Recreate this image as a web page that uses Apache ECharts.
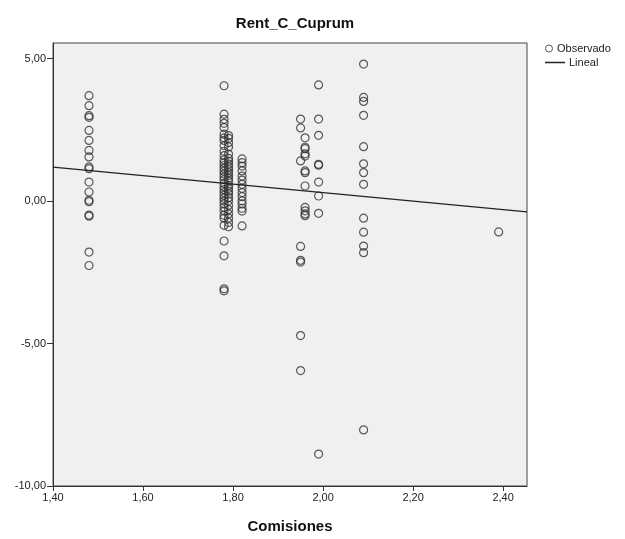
<!DOCTYPE html>
<html>
<head>
<meta charset="utf-8">
<script src="https://cdn.jsdelivr.net/npm/echarts@6/dist/echarts.min.js"></script>
<style>
  html, body { margin: 0; padding: 0; background: #ffffff; }
  #chart { width: 625px; height: 539px; }
</style>
</head>
<body>
<div id="chart"></div>
<script>
// Rentabilidad observada por nivel de comisión
const comisiones = [1.48, 1.78, 1.79, 1.82, 1.95, 1.96, 1.99, 2.09, 2.39];
const rent148 = [3.70, 3.35, 3.00, 2.94, 2.48, 2.13, 1.78, 1.55, 1.20, 1.14, 0.67, 0.32, 0.03, -0.02, -0.49, -0.53, -1.79, -2.26];
const rent178 = [4.05, 3.05, 2.87, 2.73, 2.58, 2.35, 2.22, 2.13, 1.95, 1.75, 1.60, 1.45, 1.35, 1.25, 1.15, 1.05, 0.95, 0.85, 0.75, 0.62, 0.50, 0.40, 0.30, 0.20, 0.10, 0.00, -0.10, -0.22, -0.35, -0.50, -0.60, -0.85, -1.40, -1.92, -3.08, -3.15];
const rent179 = [2.30, 2.20, 2.05, 1.90, 1.65, 1.50, 1.40, 1.30, 1.20, 1.10, 1.00, 0.90, 0.80, 0.70, 0.55, 0.45, 0.35, 0.25, 0.12, 0.00, -0.15, -0.30, -0.45, -0.60, -0.75, -0.90];
const rent182 = [1.48, 1.35, 1.23, 1.06, 0.88, 0.74, 0.59, 0.45, 0.30, 0.16, 0.01, -0.10, -0.25, -0.35, -0.87];
const rent195 = [2.88, 2.57, 1.41, -1.59, -2.08, -2.14, -4.72, -5.95];
const rent196 = [2.22, 1.89, 1.84, 1.66, 1.58, 1.06, 1.00, 0.53, -0.22, -0.34, -0.45, -0.51];
const rent199 = [4.08, 2.88, 2.31, 1.29, 1.26, 0.67, 0.18, -0.43, -8.88];
const rent209 = [4.81, 3.64, 3.50, 3.01, 1.91, 1.31, 1.00, 0.59, -0.60, -1.09, -1.58, -1.81, -8.03];
const rent239 = [-1.08];
const rentPorGrupo = [rent148, rent178, rent179, rent182, rent195, rent196, rent199, rent209, rent239];

// Ajuste lineal (extremos de la recta sobre el eje X)
const linealX = [1.40, 2.453];
const linealY = [1.19, -0.38];

// Marcas de los ejes
const xTicks = [1.40, 1.60, 1.80, 2.00, 2.20, 2.40];
const yTicks = [-10, -5, 0, 5];

const observado = [];
comisiones.forEach((c, i) => rentPorGrupo[i].forEach(r => observado.push([c, r])));
const lineal = linealX.map((x, i) => [x, linealY[i]]);

const FONT = '"Liberation Sans", Arial, sans-serif';
const fmt = v => v.toFixed(2).replace('.', ',');
const legendText = { fontFamily: FONT, fontSize: 11, color: '#222', padding: [0, 0, 0, -1] };

const chart = echarts.init(document.getElementById('chart'), null, { renderer: 'canvas' });
chart.setOption({
  backgroundColor: '#ffffff',
  animation: false,
  title: {
    text: 'Rent_C_Cuprum',
    left: 290, top: 11, textAlign: 'center',
    textStyle: { fontFamily: FONT, fontSize: 15, fontWeight: 'bold', color: '#111' }
  },
  legend: [
    {
      left: 540, top: 38,
      itemWidth: 8, itemHeight: 7,
      itemStyle: { borderWidth: 1, borderColor: '#333', color: 'rgba(0,0,0,0)' },
      textStyle: legendText,
      data: [{ name: 'Observado', icon: 'circle' }]
    },
    {
      left: 540, top: 52,
      itemWidth: 20, itemHeight: 1.5,
      textStyle: legendText,
      data: [{ name: 'Lineal', icon: 'rect' }]
    }
  ],
  grid: {
    left: 53, right: 98, top: 43, bottom: 50,
    show: true, backgroundColor: '#f0f0f0', borderColor: '#444', borderWidth: 1
  },
  xAxis: {
    type: 'value', min: 1.40, max: 2.453,
    name: 'Comisiones', nameLocation: 'middle', nameGap: 33,
    nameTextStyle: { fontFamily: FONT, fontSize: 15, fontWeight: 'bold', color: '#111' },
    axisLine: { show: true, onZero: false, lineStyle: { color: '#333', width: 1 } },
    axisTick: { show: true, inside: false, length: 5, customValues: xTicks, lineStyle: { color: '#333' } },
    axisLabel: { customValues: xTicks, formatter: fmt, fontFamily: FONT, fontSize: 11, color: '#222', margin: 6 },
    splitLine: { show: false }
  },
  yAxis: {
    type: 'value', min: -10, max: 5.55,
    axisLine: { show: true, onZero: false, lineStyle: { color: '#333', width: 1 } },
    axisTick: { show: true, inside: false, length: 6, customValues: yTicks, lineStyle: { color: '#333' } },
    axisLabel: { customValues: yTicks, formatter: fmt, fontFamily: FONT, fontSize: 11, color: '#222', margin: 7 },
    splitLine: { show: false }
  },
  series: [
    {
      name: 'Observado', type: 'scatter',
      symbol: 'circle', symbolSize: 8,
      itemStyle: { color: 'rgba(0,0,0,0)', borderColor: '#333', borderWidth: 1.2 },
      data: observado
    },
    {
      name: 'Lineal', type: 'line',
      symbol: 'none', showSymbol: false,
      lineStyle: { color: '#222', width: 1.2 },
      itemStyle: { color: '#222' },
      data: lineal, z: 3
    }
  ]
});
</script>
</body>
</html>
